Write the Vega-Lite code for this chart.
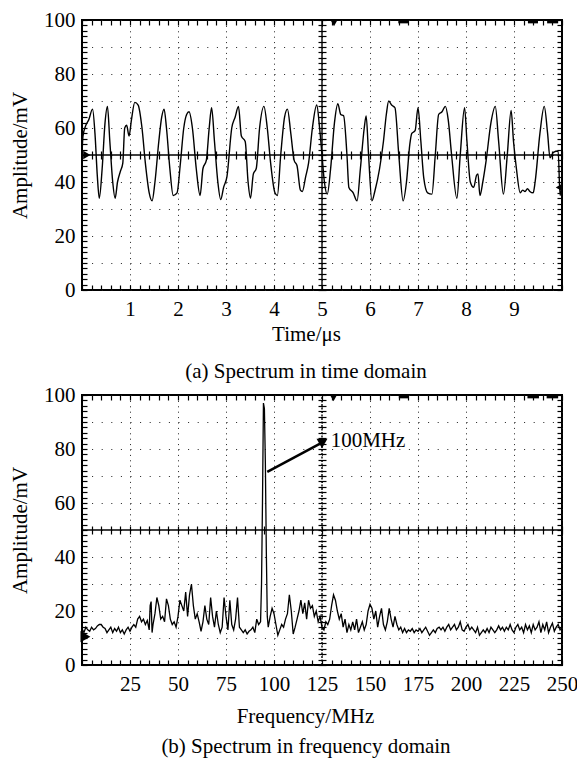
{
"$schema":"https://vega.github.io/schema/vega-lite/v6.json",
"background":"white",
"padding":{"top":8,"left":8,"right":0,"bottom":0},
"spacing":0,
"config":{
 "font":"Liberation Serif, Times New Roman, Times, DejaVu Serif, serif",
 "view":{"stroke":"black","strokeWidth":2},
 "axis":{"labelFont":"Liberation Serif, Times New Roman, Times, DejaVu Serif, serif","titleFont":"Liberation Serif, Times New Roman, Times, DejaVu Serif, serif","labelColor":"black","titleColor":"black","labelFontSize":21,"titleFontSize":21,"titleFontWeight":"normal","tickColor":"black","tickWidth":1.2,"domain":false,"grid":false,"labelFlush":false,"labelOverlap":false},
 "title":{"font":"Liberation Serif, Times New Roman, Times, DejaVu Serif, serif","fontSize":21,"fontWeight":"normal","color":"black"},
 "text":{"font":"Liberation Serif, Times New Roman, Times, DejaVu Serif, serif"}
},
"datasets":{
 "time":[{"t":0,"a":50},{"t":0.02,"a":57},{"t":0.08,"a":61},{"t":0.14,"a":63},{"t":0.22,"a":67},{"t":0.27,"a":58},{"t":0.32,"a":42},{"t":0.36,"a":34},{"t":0.42,"a":45},{"t":0.48,"a":62},{"t":0.53,"a":68},{"t":0.58,"a":55},{"t":0.64,"a":40},{"t":0.69,"a":34},{"t":0.74,"a":40},{"t":0.8,"a":44},{"t":0.85,"a":47},{"t":0.89,"a":60},{"t":0.93,"a":61},{"t":0.98,"a":57},{"t":1.03,"a":63},{"t":1.1,"a":69.5},{"t":1.17,"a":68.5},{"t":1.25,"a":60},{"t":1.32,"a":47},{"t":1.4,"a":36},{"t":1.46,"a":33},{"t":1.52,"a":40},{"t":1.6,"a":55},{"t":1.66,"a":64},{"t":1.71,"a":67},{"t":1.76,"a":60},{"t":1.83,"a":45},{"t":1.9,"a":35},{"t":1.98,"a":36},{"t":2.05,"a":47},{"t":2.12,"a":60},{"t":2.18,"a":65},{"t":2.23,"a":66},{"t":2.3,"a":60},{"t":2.38,"a":45},{"t":2.46,"a":35},{"t":2.52,"a":45},{"t":2.59,"a":48},{"t":2.65,"a":60},{"t":2.7,"a":67.5},{"t":2.76,"a":55},{"t":2.83,"a":40},{"t":2.89,"a":33.5},{"t":2.95,"a":38},{"t":3.02,"a":42},{"t":3.12,"a":60},{"t":3.19,"a":64},{"t":3.26,"a":68},{"t":3.32,"a":57},{"t":3.4,"a":55},{"t":3.46,"a":40},{"t":3.51,"a":34},{"t":3.57,"a":43},{"t":3.63,"a":45},{"t":3.7,"a":60},{"t":3.79,"a":68},{"t":3.86,"a":60},{"t":3.93,"a":47},{"t":4.02,"a":36},{"t":4.07,"a":35},{"t":4.14,"a":50},{"t":4.22,"a":64},{"t":4.28,"a":67},{"t":4.35,"a":58},{"t":4.42,"a":48},{"t":4.48,"a":46},{"t":4.55,"a":37},{"t":4.59,"a":36.5},{"t":4.66,"a":42},{"t":4.72,"a":47},{"t":4.8,"a":60},{"t":4.89,"a":68.5},{"t":4.95,"a":60},{"t":5,"a":50},{"t":5.05,"a":40},{"t":5.11,"a":35.5},{"t":5.18,"a":45},{"t":5.26,"a":62},{"t":5.33,"a":69},{"t":5.39,"a":65},{"t":5.45,"a":64.5},{"t":5.52,"a":50},{"t":5.56,"a":38},{"t":5.65,"a":36},{"t":5.73,"a":33},{"t":5.8,"a":45},{"t":5.88,"a":60},{"t":5.92,"a":64.5},{"t":5.97,"a":50},{"t":6.04,"a":33},{"t":6.1,"a":36.5},{"t":6.2,"a":45},{"t":6.28,"a":55},{"t":6.34,"a":65},{"t":6.39,"a":70},{"t":6.45,"a":68.5},{"t":6.52,"a":67.5},{"t":6.6,"a":50},{"t":6.69,"a":33},{"t":6.76,"a":40},{"t":6.83,"a":54},{"t":6.87,"a":58},{"t":6.94,"a":59},{"t":7,"a":67.5},{"t":7.06,"a":55},{"t":7.12,"a":41.5},{"t":7.2,"a":36},{"t":7.29,"a":35.5},{"t":7.36,"a":50},{"t":7.43,"a":65},{"t":7.5,"a":66},{"t":7.57,"a":68},{"t":7.63,"a":63},{"t":7.7,"a":50},{"t":7.81,"a":34},{"t":7.88,"a":50},{"t":7.97,"a":67.5},{"t":8.02,"a":55},{"t":8.09,"a":40},{"t":8.16,"a":38},{"t":8.22,"a":42.5},{"t":8.25,"a":43},{"t":8.29,"a":35},{"t":8.35,"a":40},{"t":8.42,"a":48},{"t":8.52,"a":62},{"t":8.61,"a":68},{"t":8.68,"a":55},{"t":8.78,"a":35.5},{"t":8.86,"a":50},{"t":8.94,"a":66.5},{"t":8.99,"a":55},{"t":9.05,"a":45},{"t":9.13,"a":36},{"t":9.18,"a":37},{"t":9.23,"a":36.5},{"t":9.28,"a":37.5},{"t":9.33,"a":36.5},{"t":9.4,"a":36},{"t":9.44,"a":40},{"t":9.54,"a":58},{"t":9.63,"a":68},{"t":9.7,"a":58},{"t":9.75,"a":49},{"t":9.82,"a":51},{"t":9.92,"a":51.5},{"t":9.96,"a":35},{"t":10,"a":40}],
 "freq":[{"f":0,"a":13.5},{"f":1,"a":12},{"f":2,"a":14},{"f":3,"a":13},{"f":4,"a":12.5},{"f":5,"a":14},{"f":6,"a":13},{"f":7,"a":13.5},{"f":8,"a":14.5},{"f":9,"a":15},{"f":10,"a":15},{"f":11,"a":14},{"f":12,"a":13.5},{"f":13,"a":12},{"f":14,"a":13},{"f":15,"a":14},{"f":16,"a":12},{"f":17,"a":13.5},{"f":18,"a":12.5},{"f":19,"a":14},{"f":20,"a":12},{"f":21,"a":13},{"f":22,"a":11.5},{"f":23,"a":13},{"f":24,"a":14},{"f":25,"a":12.5},{"f":26,"a":14},{"f":27,"a":15},{"f":28,"a":14},{"f":29,"a":17},{"f":30,"a":18},{"f":31,"a":16},{"f":32,"a":17},{"f":33,"a":15},{"f":34,"a":16.5},{"f":35,"a":13},{"f":35.5,"a":22},{"f":36,"a":23.5},{"f":36.5,"a":12},{"f":37,"a":15},{"f":38,"a":19},{"f":39,"a":25},{"f":40,"a":22},{"f":41,"a":17},{"f":42,"a":18},{"f":43,"a":16},{"f":44,"a":24.5},{"f":45,"a":22},{"f":46,"a":17},{"f":47,"a":15},{"f":48,"a":16},{"f":49,"a":14},{"f":50,"a":18},{"f":51,"a":24},{"f":52,"a":22},{"f":53,"a":20},{"f":54,"a":27},{"f":55,"a":18},{"f":56,"a":26},{"f":57,"a":30},{"f":58,"a":22},{"f":59,"a":17},{"f":60,"a":19},{"f":61,"a":16},{"f":62,"a":12.5},{"f":63,"a":16},{"f":64,"a":22},{"f":65,"a":17},{"f":66,"a":15},{"f":67,"a":25},{"f":68,"a":18},{"f":69,"a":14},{"f":70,"a":20},{"f":71,"a":15},{"f":72,"a":12},{"f":73,"a":14},{"f":74,"a":25},{"f":75,"a":18},{"f":76,"a":13},{"f":77,"a":24},{"f":78,"a":15},{"f":79,"a":13},{"f":80,"a":17},{"f":81,"a":25},{"f":82,"a":14},{"f":83,"a":13},{"f":84,"a":12},{"f":85,"a":13},{"f":86,"a":11.5},{"f":87,"a":12.5},{"f":88,"a":13},{"f":89,"a":14},{"f":90,"a":12},{"f":91,"a":17},{"f":92,"a":15},{"f":93,"a":16},{"f":93.5,"a":30},{"f":94,"a":60},{"f":94.5,"a":97},{"f":95,"a":95},{"f":95.5,"a":75},{"f":96,"a":42},{"f":96.5,"a":18},{"f":97,"a":14},{"f":98,"a":18},{"f":99,"a":21},{"f":100,"a":19},{"f":101,"a":15},{"f":102,"a":11},{"f":103,"a":13},{"f":104,"a":15},{"f":105,"a":14},{"f":106,"a":17},{"f":107,"a":19},{"f":108,"a":26},{"f":109,"a":20},{"f":110,"a":11.5},{"f":111,"a":14},{"f":112,"a":17},{"f":113,"a":20},{"f":114,"a":24},{"f":115,"a":19},{"f":116,"a":23},{"f":117,"a":17},{"f":118,"a":24},{"f":119,"a":21},{"f":120,"a":22},{"f":121,"a":18},{"f":122,"a":20},{"f":123,"a":16},{"f":124,"a":18},{"f":125,"a":14},{"f":126,"a":13},{"f":127,"a":16},{"f":128,"a":15},{"f":129,"a":17},{"f":130,"a":22},{"f":131,"a":26},{"f":132,"a":24},{"f":133,"a":20},{"f":134,"a":17},{"f":135,"a":19},{"f":136,"a":14},{"f":137,"a":17},{"f":138,"a":12},{"f":139,"a":15},{"f":140,"a":13},{"f":141,"a":16},{"f":142,"a":13},{"f":143,"a":17},{"f":144,"a":12},{"f":145,"a":14},{"f":146,"a":16},{"f":147,"a":13},{"f":148,"a":15},{"f":149,"a":20},{"f":150,"a":22.5},{"f":151,"a":21},{"f":152,"a":17},{"f":153,"a":20},{"f":154,"a":14},{"f":155,"a":18},{"f":156,"a":21},{"f":157,"a":15},{"f":158,"a":13},{"f":159,"a":16},{"f":160,"a":21},{"f":161,"a":17},{"f":162,"a":14},{"f":163,"a":18},{"f":164,"a":15},{"f":165,"a":13},{"f":166,"a":14},{"f":167,"a":12},{"f":168,"a":13.5},{"f":169,"a":12},{"f":170,"a":13},{"f":171,"a":12.5},{"f":172,"a":13.5},{"f":173,"a":12},{"f":174,"a":13},{"f":175,"a":12.5},{"f":176,"a":13.5},{"f":177,"a":12},{"f":178,"a":13},{"f":179,"a":14},{"f":180,"a":12.5},{"f":181,"a":11},{"f":182,"a":12},{"f":183,"a":13},{"f":184,"a":12},{"f":185,"a":13.5},{"f":186,"a":14},{"f":187,"a":13},{"f":188,"a":14},{"f":189,"a":12.5},{"f":190,"a":14},{"f":191,"a":15},{"f":192,"a":13},{"f":193,"a":14},{"f":194,"a":15},{"f":195,"a":13},{"f":196,"a":14},{"f":197,"a":16},{"f":198,"a":13},{"f":199,"a":12.5},{"f":200,"a":14},{"f":201,"a":15},{"f":202,"a":13},{"f":203,"a":14},{"f":204,"a":13},{"f":205,"a":12},{"f":206,"a":14},{"f":207,"a":11},{"f":208,"a":12},{"f":209,"a":13},{"f":210,"a":12},{"f":211,"a":13.5},{"f":212,"a":12},{"f":213,"a":14},{"f":214,"a":13},{"f":215,"a":12},{"f":216,"a":13},{"f":217,"a":14.5},{"f":218,"a":13},{"f":219,"a":14},{"f":220,"a":12.5},{"f":221,"a":14},{"f":222,"a":13},{"f":223,"a":15},{"f":224,"a":13},{"f":225,"a":12},{"f":226,"a":14},{"f":227,"a":15},{"f":228,"a":13},{"f":229,"a":14},{"f":230,"a":12},{"f":231,"a":15},{"f":232,"a":13},{"f":233,"a":14.5},{"f":234,"a":12},{"f":235,"a":15},{"f":236,"a":13},{"f":237,"a":14},{"f":238,"a":16},{"f":239,"a":12},{"f":240,"a":15},{"f":241,"a":13},{"f":242,"a":16},{"f":243,"a":12},{"f":244,"a":14},{"f":245,"a":15.5},{"f":246,"a":12.5},{"f":247,"a":14},{"f":248,"a":15},{"f":249,"a":13},{"f":250,"a":14}]
},
"vconcat":[
{
 "width":480,"height":270,
 "title":{"text":"(a) Spectrum in time domain","orient":"bottom","anchor":"middle","offset":17,"dx":-16},
 "resolve":{"axis":{"x":"independent","y":"independent"}},
 "layer":[
  {"data":{"name":"time"},"mark":{"type":"line","color":"black","strokeWidth":1.4,"clip":true,"interpolate":"monotone"},
   "encoding":{
    "x":{"field":"t","type":"quantitative","scale":{"domain":[0,10],"nice":false,"zero":false},
     "axis":{"orient":"bottom","values":[1,2,3,4,5,6,7,8,9],"ticks":false,"labelPadding":8,"grid":true,"gridDash":[1,4.4],"gridColor":"#222","gridWidth":1,"title":"Time/μs","titlePadding":4,"titleX":224}},
    "y":{"field":"a","type":"quantitative","scale":{"domain":[0,100],"nice":false,"zero":false},
     "axis":{"orient":"left","values":[0,10,20,30,40,50,60,70,80,90,100],"labelExpr":"datum.value % 20 === 0 ? datum.label : ''","ticks":false,"labelPadding":7,"grid":true,"gridDash":[1,8.6],"gridColor":"#222","gridWidth":1,"title":"Amplitude/mV","titlePadding":13}}}},
  {"data":{"values":[{"x0":0,"x1":10,"a":50}]},"mark":{"type":"rule","color":"black","strokeWidth":1.4},
   "encoding":{
    "x":{"field":"x0","type":"quantitative","scale":{"domain":[0,10],"nice":false,"zero":false},
     "axis":{"orient":"bottom","values":[0,0.2,0.4,0.6,0.8,1,1.2,1.4,1.6,1.8,2,2.2,2.4,2.6,2.8,3,3.2,3.4,3.6,3.8,4,4.2,4.4,4.6,4.8,5,5.2,5.4,5.6,5.8,6,6.2,6.4,6.6,6.8,7,7.2,7.4,7.6,7.8,8,8.2,8.4,8.6,8.8,9,9.2,9.4,9.6,9.8,10],"tickSize":-5,"labels":false,"title":null}},
    "x2":{"field":"x1"},
    "y":{"field":"a","type":"quantitative","scale":{"domain":[0,100],"nice":false,"zero":false},
     "axis":{"orient":"left","values":[0,2,4,6,8,10,12,14,16,18,20,22,24,26,28,30,32,34,36,38,40,42,44,46,48,50,52,54,56,58,60,62,64,66,68,70,72,74,76,78,80,82,84,86,88,90,92,94,96,98,100],"tickSize":-5,"labels":false,"title":null}}}},
  {"data":{"values":[{"t":5,"lo":0,"hi":100}]},"mark":{"type":"rule","color":"black","strokeWidth":1.4},
   "encoding":{
    "x":{"field":"t","type":"quantitative","scale":{"domain":[0,10],"nice":false,"zero":false},
     "axis":{"orient":"top","values":[0,0.2,0.4,0.6,0.8,1,1.2,1.4,1.6,1.8,2,2.2,2.4,2.6,2.8,3,3.2,3.4,3.6,3.8,4,4.2,4.4,4.6,4.8,5,5.2,5.4,5.6,5.8,6,6.2,6.4,6.6,6.8,7,7.2,7.4,7.6,7.8,8,8.2,8.4,8.6,8.8,9,9.2,9.4,9.6,9.8,10],"tickSize":-5,"labels":false,"title":null}},
    "y":{"field":"lo","type":"quantitative","scale":{"domain":[0,100],"nice":false,"zero":false},
     "axis":{"orient":"right","values":[0,2,4,6,8,10,12,14,16,18,20,22,24,26,28,30,32,34,36,38,40,42,44,46,48,50,52,54,56,58,60,62,64,66,68,70,72,74,76,78,80,82,84,86,88,90,92,94,96,98,100],"tickSize":-5,"labels":false,"title":null}},
    "y2":{"field":"hi"}}},
  {"data":{"values":[{"x":0.1,"y":50,"s":"triangle-right","z":70},{"x":5.25,"y":98.8,"s":"triangle-down","z":45},{"x":9.93,"y":38,"s":"triangle-left","z":45}]},
   "mark":{"type":"point","filled":true,"color":"black","opacity":1},
   "encoding":{
    "x":{"field":"x","type":"quantitative","scale":{"domain":[0,10],"nice":false,"zero":false},
     "axis":{"orient":"bottom","offset":-139,"values":[0,0.2,0.4,0.6,0.8,1,1.2,1.4,1.6,1.8,2,2.2,2.4,2.6,2.8,3,3.2,3.4,3.6,3.8,4,4.2,4.4,4.6,4.8,5,5.2,5.4,5.6,5.8,6,6.2,6.4,6.6,6.8,7,7.2,7.4,7.6,7.8,8,8.2,8.4,8.6,8.8,9,9.2,9.4,9.6,9.8,10],"tickSize":8,"labels":false,"title":null}},
    "y":{"field":"y","type":"quantitative","scale":{"domain":[0,100],"nice":false,"zero":false},
     "axis":{"orient":"left","offset":-244,"values":[0,2,4,6,8,10,12,14,16,18,20,22,24,26,28,30,32,34,36,38,40,42,44,46,48,50,52,54,56,58,60,62,64,66,68,70,72,74,76,78,80,82,84,86,88,90,92,94,96,98,100],"tickSize":8,"labels":false,"title":null}},
    "shape":{"field":"s","type":"nominal","scale":null},
    "size":{"field":"z","type":"quantitative","scale":null}}},
  {"data":{"values":[{"x0":6.59,"x1":6.8,"y":99.5},{"x0":9.29,"x1":9.5,"y":99.5},{"x0":9.69,"x1":9.92,"y":99.5}]},
   "mark":{"type":"rule","color":"black","strokeWidth":4},
   "encoding":{
    "x":{"field":"x0","type":"quantitative","scale":{"domain":[0,10],"nice":false,"zero":false},"axis":null},
    "x2":{"field":"x1"},
    "y":{"field":"y","type":"quantitative","scale":{"domain":[0,100],"nice":false,"zero":false},"axis":null}}}
 ]
},
{
 "width":480,"height":270,
 "title":{"text":"(b) Spectrum in frequency domain","orient":"bottom","anchor":"middle","offset":10,"dx":-16},
 "resolve":{"axis":{"x":"independent","y":"independent"}},
 "layer":[
  {"data":{"name":"freq"},"mark":{"type":"line","color":"black","strokeWidth":1.3,"clip":true},
   "encoding":{
    "x":{"field":"f","type":"quantitative","scale":{"domain":[0,250],"nice":false,"zero":false},
     "axis":{"orient":"bottom","values":[25,50,75,100,125,150,175,200,225,250],"ticks":false,"labelPadding":8,"grid":true,"gridDash":[1,4.4],"gridColor":"#222","gridWidth":1,"title":"Frequency/MHz","titlePadding":11,"titleX":223}},
    "y":{"field":"a","type":"quantitative","scale":{"domain":[0,100],"nice":false,"zero":false},
     "axis":{"orient":"left","values":[0,10,20,30,40,50,60,70,80,90,100],"labelExpr":"datum.value % 20 === 0 ? datum.label : ''","ticks":false,"labelPadding":7,"grid":true,"gridDash":[1,8.6],"gridColor":"#222","gridWidth":1,"title":"Amplitude/mV","titlePadding":13}}}},
  {"data":{"values":[{"x0":0,"x1":250,"a":50}]},"mark":{"type":"rule","color":"black","strokeWidth":1.4},
   "encoding":{
    "x":{"field":"x0","type":"quantitative","scale":{"domain":[0,250],"nice":false,"zero":false},
     "axis":{"orient":"bottom","values":[0,5,10,15,20,25,30,35,40,45,50,55,60,65,70,75,80,85,90,95,100,105,110,115,120,125,130,135,140,145,150,155,160,165,170,175,180,185,190,195,200,205,210,215,220,225,230,235,240,245,250],"tickSize":-5,"labels":false,"title":null}},
    "x2":{"field":"x1"},
    "y":{"field":"a","type":"quantitative","scale":{"domain":[0,100],"nice":false,"zero":false},
     "axis":{"orient":"left","values":[0,2,4,6,8,10,12,14,16,18,20,22,24,26,28,30,32,34,36,38,40,42,44,46,48,50,52,54,56,58,60,62,64,66,68,70,72,74,76,78,80,82,84,86,88,90,92,94,96,98,100],"tickSize":-5,"labels":false,"title":null}}}},
  {"data":{"values":[{"f":125,"lo":0,"hi":100}]},"mark":{"type":"rule","color":"black","strokeWidth":1.4,"strokeDash":[2,1.5]},
   "encoding":{
    "x":{"field":"f","type":"quantitative","scale":{"domain":[0,250],"nice":false,"zero":false},
     "axis":{"orient":"top","values":[0,5,10,15,20,25,30,35,40,45,50,55,60,65,70,75,80,85,90,95,100,105,110,115,120,125,130,135,140,145,150,155,160,165,170,175,180,185,190,195,200,205,210,215,220,225,230,235,240,245,250],"tickSize":-5,"labels":false,"title":null}},
    "y":{"field":"lo","type":"quantitative","scale":{"domain":[0,100],"nice":false,"zero":false},
     "axis":{"orient":"right","values":[0,2,4,6,8,10,12,14,16,18,20,22,24,26,28,30,32,34,36,38,40,42,44,46,48,50,52,54,56,58,60,62,64,66,68,70,72,74,76,78,80,82,84,86,88,90,92,94,96,98,100],"tickSize":-5,"labels":false,"title":null}},
    "y2":{"field":"hi"}}},
  {"data":{"values":[{"f":1.8,"y":10.5,"s":"triangle-right","z":130},{"f":131,"y":98.8,"s":"triangle-down","z":45},{"f":125,"y":82,"s":"triangle-down","z":120}]},
   "mark":{"type":"point","filled":true,"color":"black","opacity":1},
   "encoding":{
    "x":{"field":"f","type":"quantitative","scale":{"domain":[0,250],"nice":false,"zero":false},
     "axis":{"orient":"bottom","offset":-139,"values":[0,5,10,15,20,25,30,35,40,45,50,55,60,65,70,75,80,85,90,95,100,105,110,115,120,125,130,135,140,145,150,155,160,165,170,175,180,185,190,195,200,205,210,215,220,225,230,235,240,245,250],"tickSize":8,"labels":false,"title":null}},
    "y":{"field":"y","type":"quantitative","scale":{"domain":[0,100],"nice":false,"zero":false},
     "axis":{"orient":"left","offset":-244,"values":[0,2,4,6,8,10,12,14,16,18,20,22,24,26,28,30,32,34,36,38,40,42,44,46,48,50,52,54,56,58,60,62,64,66,68,70,72,74,76,78,80,82,84,86,88,90,92,94,96,98,100],"tickSize":8,"labels":false,"title":null}},
    "shape":{"field":"s","type":"nominal","scale":null},
    "size":{"field":"z","type":"quantitative","scale":null}}},
  {"data":{"values":[{"x0":165,"x1":170,"y":99.5},{"x0":232,"x1":238,"y":99.5},{"x0":242,"x1":248,"y":99.5}]},
   "mark":{"type":"rule","color":"black","strokeWidth":4},
   "encoding":{
    "x":{"field":"x0","type":"quantitative","scale":{"domain":[0,250],"nice":false,"zero":false},"axis":null},
    "x2":{"field":"x1"},
    "y":{"field":"y","type":"quantitative","scale":{"domain":[0,100],"nice":false,"zero":false},"axis":null}}},
  {"data":{"values":[{"f0":96.5,"f1":124,"y0":71.5,"y1":82}]},
   "mark":{"type":"rule","color":"black","strokeWidth":2.5},
   "encoding":{
    "x":{"field":"f0","type":"quantitative","scale":{"domain":[0,250],"nice":false,"zero":false},"axis":null},
    "x2":{"field":"f1"},
    "y":{"field":"y0","type":"quantitative","scale":{"domain":[0,100],"nice":false,"zero":false},"axis":null},
    "y2":{"field":"y1"}}},
  {"data":{"values":[{"f":129.5,"y":83,"label":"100MHz"}]},
   "mark":{"type":"text","align":"left","baseline":"middle","fontSize":21,"color":"black"},
   "encoding":{
    "x":{"field":"f","type":"quantitative","scale":{"domain":[0,250],"nice":false,"zero":false},"axis":null},
    "y":{"field":"y","type":"quantitative","scale":{"domain":[0,100],"nice":false,"zero":false},"axis":null},
    "text":{"field":"label"}}}
 ]
}
]
}
